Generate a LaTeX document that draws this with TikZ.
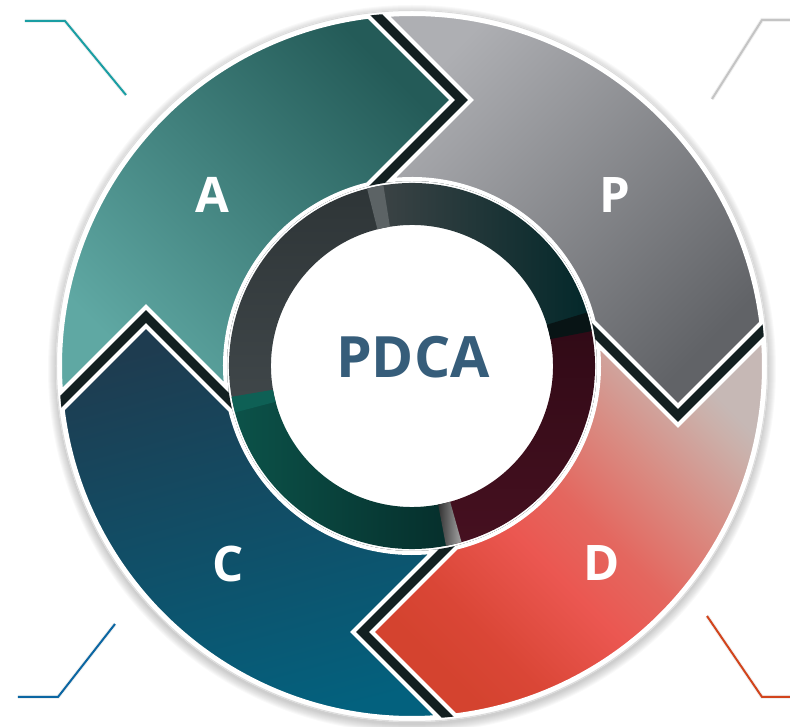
\documentclass[tikz,border=0pt]{standalone}
\usepackage{fontspec}
\setmainfont{Open Sans}
\definecolor{aDark}{HTML}{245B58}
\definecolor{aLight}{HTML}{5FA8A3}
\definecolor{pLight}{HTML}{AEAFB3}
\definecolor{pDark}{HTML}{616367}
\definecolor{dS1}{HTML}{D4432F}
\definecolor{dS2}{HTML}{DA4636}
\definecolor{dS3}{HTML}{EB5751}
\definecolor{dS4}{HTML}{E4675F}
\definecolor{dS5}{HTML}{D98B82}
\definecolor{dS6}{HTML}{CBB0AA}
\definecolor{dS7}{HTML}{C6B8B5}
\definecolor{cTop}{HTML}{1E3C50}
\definecolor{cBot}{HTML}{03617E}
\definecolor{gapDark}{HTML}{132021}
\definecolor{pdcaBlue}{HTML}{365D7A}
\definecolor{lnTeal}{HTML}{1A9EA3}
\definecolor{lnGray}{HTML}{C4C4C4}
\definecolor{lnBlue}{HTML}{0B66A2}
\definecolor{lnOrange}{HTML}{D2441C}
\definecolor{rimGray}{HTML}{DCDCDC}
\definecolor{ringPa}{HTML}{3E4446}
\definecolor{ringPb}{HTML}{03282A}
\definecolor{ringAa}{HTML}{2E3537}
\definecolor{ringAb}{HTML}{40474A}
\definecolor{ringDa}{HTML}{300A16}
\definecolor{ringDb}{HTML}{461020}
\definecolor{ringCa}{HTML}{0C5249}
\definecolor{ringCb}{HTML}{052E2B}
\definecolor{faceGray}{HTML}{5C6365}
\definecolor{faceBlack}{HTML}{081415}
\definecolor{faceTeal}{HTML}{0E6055}
\pgfdeclarehorizontalshading{dshade}{100bp}{color(0bp)=(dS1); color(25bp)=(dS1); color(32bp)=(dS2); color(44bp)=(dS3); color(52bp)=(dS4); color(62bp)=(dS5); color(72bp)=(dS6); color(75bp)=(dS7); color(100bp)=(dS7)}
\tikzset{
  segment/.style={draw=white, line width=4pt, line join=miter, miter limit=3},
  letter/.style={text=white, font=\bfseries\fontsize{49}{49}\selectfont, inner sep=0pt},
  leader/.style={line width=2pt, line cap=butt, line join=miter},
  leadershadow/.style={line width=4pt, black, opacity=0.06},
}
\begin{document}
\begin{tikzpicture}[x=1pt,y=1pt]
\useasboundingbox (-412,-361) rectangle (378,366);
% soft shadow under the disc
\foreach \i in {1,...,9}{
  \fill[black, opacity=0.022] (0,-3) circle[radius=355+\i];
}
% white disc with thin rim
\fill[white] (0,0) circle[radius=356];
\draw[rimGray, line width=1pt] (0,0) circle[radius=355.5];
% dark under-layer that shows in the joints
\fill[gapDark, even odd rule] (0,0) circle[radius=353] (0,0) circle[radius=185];
% inner ring pieces
\shade[left color=ringPa, right color=ringPb]
  (13.71:141) arc[start angle=13.71,end angle=103.71,radius=141] -- (103.71:183) arc[start angle=103.71,end angle=13.71,radius=183] -- cycle;
\shade[top color=ringAa, bottom color=ringAb]
  (103.71:141) arc[start angle=103.71,end angle=193.71,radius=141] -- (193.71:183) arc[start angle=193.71,end angle=103.71,radius=183] -- cycle;
\shade[top color=ringDa, bottom color=ringDb]
  (-76.29:141) arc[start angle=-76.29,end angle=13.71,radius=141] -- (13.71:183) arc[start angle=13.71,end angle=-76.29,radius=183] -- cycle;
\shade[left color=ringCa, right color=ringCb]
  (193.71:141) arc[start angle=193.71,end angle=283.71,radius=141] -- (283.71:183) arc[start angle=283.71,end angle=193.71,radius=183] -- cycle;
% block faces at the ring breaks
\fill[faceGray]
  (99.0:141) arc[start angle=99.0,end angle=104.2,radius=141] -- (104.2:183) arc[start angle=104.2,end angle=99.0,radius=183] -- cycle;
\fill[faceBlack]
  (11.0:141) arc[start angle=11.0,end angle=17.0,radius=141] -- (17.0:183) arc[start angle=17.0,end angle=11.0,radius=183] -- cycle;
\shade[left color=gray!40!black, right color=gray!70]
  (-79.3:141) arc[start angle=-79.3,end angle=-74.3,radius=141] -- (-74.3:183) arc[start angle=-74.3,end angle=-79.3,radius=183] -- cycle;
\fill[faceTeal]
  (189.7:141) arc[start angle=189.7,end angle=194.7,radius=141] -- (194.7:183) arc[start angle=194.7,end angle=189.7,radius=183] -- cycle;
% the four arrow segments
\shadedraw[segment, top color=aDark, bottom color=aLight, shading angle=-45]
  (184.24:352) arc[start angle=184.24,end angle=97.07,radius=352] -- (40,266) -- (103.71:187) arc[start angle=103.71,end angle=186.51,radius=187] -- (-266,59) -- cycle;
\shadedraw[segment, top color=pLight, bottom color=pDark, shading angle=45]
  (94.24:352) arc[start angle=94.24,end angle=7.07,radius=352] -- (266,-40) -- (13.71:187) arc[start angle=13.71,end angle=96.51,radius=187] -- (59,266) -- cycle;
\shadedraw[segment, shading=dshade, shading angle=45]
  (4.24:352) arc[start angle=4.24,end angle=-82.93,radius=352] -- (-40,-266) -- (-76.29:187) arc[start angle=-76.29,end angle=6.51,radius=187] -- (266,-59) -- cycle;
\shadedraw[segment, top color=cTop, bottom color=cBot, shading angle=15]
  (-85.76:352) arc[start angle=-85.76,end angle=-172.93,radius=352] -- (-266,40) -- (-166.29:187) arc[start angle=-166.29,end angle=-83.49,radius=187] -- (-59,-266) -- cycle;
% labels
\node[letter] (lA) at (-200,171) {A};
\node[letter] (lP) at (203,171) {P};
\node[letter] (lC) at (-184,-198) {C};
\node[letter] (lD) at (190,-197) {D};
\node[text=pdcaBlue, font=\bfseries\fontsize{57}{57}\selectfont, inner sep=0pt] (pdca) at (1,9) {PDCA};
% leader lines
\coordinate (tl1) at (-387,345); \coordinate (tl2) at (-347,345); \coordinate (tl3) at (-286,271);
\coordinate (tr1) at (378,346); \coordinate (tr2) at (350,346); \coordinate (tr3) at (300,267);
\coordinate (bl1) at (-297,-258); \coordinate (bl2) at (-354,-331); \coordinate (bl3) at (-394,-331);
\coordinate (br1) at (295,-250); \coordinate (br2) at (350,-331); \coordinate (br3) at (378,-331);
\begin{scope}[shift={(3,-4)}]
\draw[leadershadow] (tl1) -- (tl2) -- (tl3);
\draw[leadershadow] (tr1) -- (tr2) -- (tr3);
\draw[leadershadow] (bl1) -- (bl2) -- (bl3);
\draw[leadershadow] (br1) -- (br2) -- (br3);
\end{scope}
\draw[leader, lnTeal] (tl1) -- (tl2) -- (tl3);
\draw[leader, lnGray] (tr1) -- (tr2) -- (tr3);
\draw[leader, lnBlue] (bl1) -- (bl2) -- (bl3);
\draw[leader, lnOrange] (br1) -- (br2) -- (br3);
\end{tikzpicture}
\end{document}
